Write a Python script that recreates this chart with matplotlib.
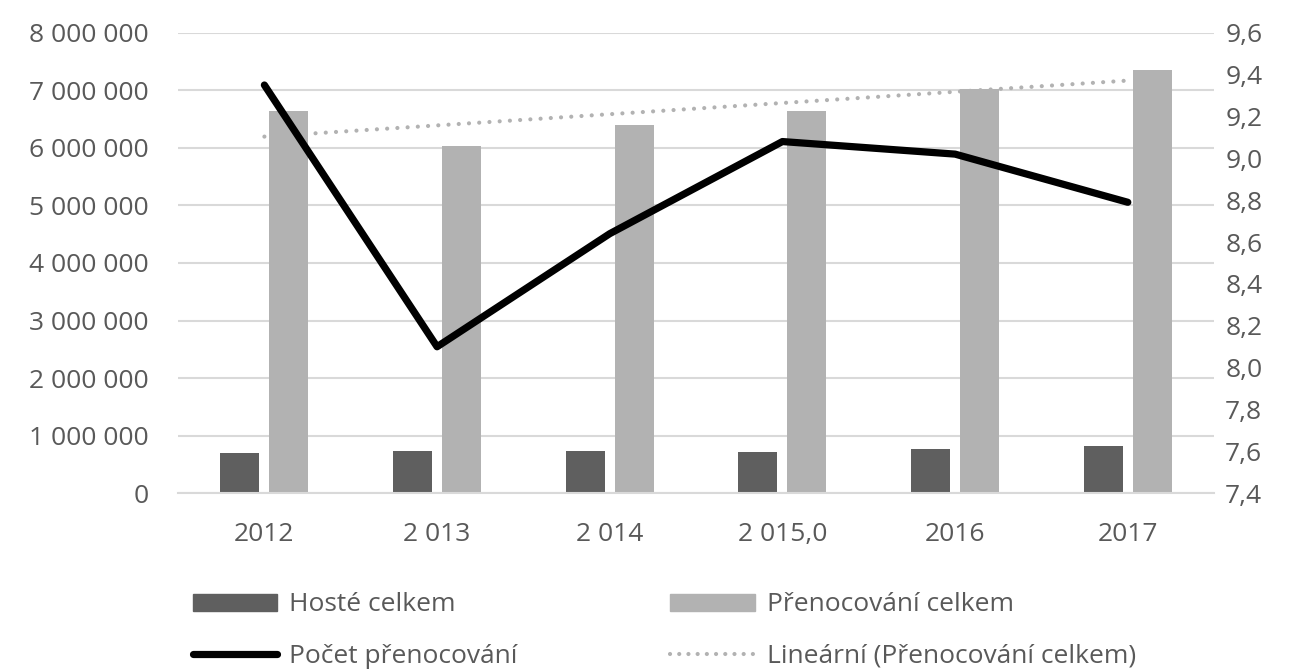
import numpy as np
import matplotlib
matplotlib.use("Agg")
import matplotlib.pyplot as plt
from matplotlib.lines import Line2D
from matplotlib.patches import Patch
from matplotlib.ticker import FuncFormatter

# data
years = ["2012", "2 013", "2 014", "2 015,0", "2016", "2017"]
hoste = [700000, 735000, 735000, 717000, 770000, 820000]
prenocovani = [6640000, 6030000, 6400000, 6640000, 7020000, 7360000]
pocet = [9.35, 8.10, 8.64, 9.08, 9.02, 8.79]

dark = '#5f5f5f'
light = '#b2b2b2'
grid = '#d9d9d9'
txt = '#595959'

plt.rcParams['font.family'] = ['Open Sans', 'DejaVu Sans']

fig = plt.figure(figsize=(12.93, 6.71), dpi=100)
ax = fig.add_axes([0.1377, 0.2648, 0.939 - 0.1377, 0.9513 - 0.2648])
ax2 = ax.twinx()

x = np.arange(len(years))
w = 0.226
ax.bar(x - 0.142, hoste, width=w, color=dark, zorder=2)
ax.bar(x + 0.142, prenocovani, width=w, color=light, zorder=2)

# linear trend of the overnight stays (Excel "Lineární")
k, q = np.polyfit(x, prenocovani, 1)
ax.plot(x, k * x + q, color=light, lw=3.0, linestyle=(0, (0.01, 2.45)),
        dash_capstyle='round', zorder=3)

ax2.plot(x, pocet, color='black', lw=5.2, solid_capstyle='round',
         solid_joinstyle='round', zorder=4)

ax.set_xlim(-0.5, len(years) - 0.5)
ax.set_ylim(0, 8000000)
ax.set_yticks(np.arange(0, 8000001, 1000000))
ax.yaxis.set_major_formatter(FuncFormatter(lambda v, p: f'{int(v):,}'.replace(',', ' ')))
ax.set_xticks(x)
ax.set_xticklabels(years)
ax.grid(axis='y', color=grid, lw=1.5, zorder=0)
ax.set_axisbelow(True)

ax2.set_ylim(7.4, 9.6)
ax2.set_yticks(np.round(np.arange(7.4, 9.61, 0.2), 1))
ax2.yaxis.set_major_formatter(FuncFormatter(lambda v, p: f'{v:.1f}'.replace('.', ',')))

for a in (ax, ax2):
    for s in a.spines.values():
        s.set_visible(False)
ax.spines['bottom'].set_visible(True)
ax.spines['bottom'].set_color(grid)
ax.spines['bottom'].set_linewidth(1.5)

ax.tick_params(axis='y', length=0, pad=21, labelsize=19, labelcolor=txt)
ax.tick_params(axis='x', length=0, pad=21, labelsize=19, labelcolor=txt)
ax2.tick_params(axis='y', length=0, pad=8, labelsize=19, labelcolor=txt)

handles = [
    Patch(color=dark),
    Line2D([], [], color='black', lw=5.2, solid_capstyle='round'),
    Patch(color=light),
    Line2D([], [], color=light, lw=3.0, linestyle=(0, (0.01, 2.2)), dash_capstyle='round'),
]
labels = ['Hosté celkem', 'Počet přenocování', 'Přenocování celkem',
          'Lineární (Přenocování celkem)']
leg = fig.legend(handles, labels, loc='upper left', bbox_to_anchor=(0.149, 0.117),
                 ncol=2, frameon=False, fontsize=19, handlelength=3.2,
                 handleheight=0.6, handletextpad=0.45, columnspacing=5.8,
                 labelspacing=1.0, borderpad=0, borderaxespad=0)
for t in leg.get_texts():
    t.set_color(txt)

fig.savefig('out.png', dpi=100)
